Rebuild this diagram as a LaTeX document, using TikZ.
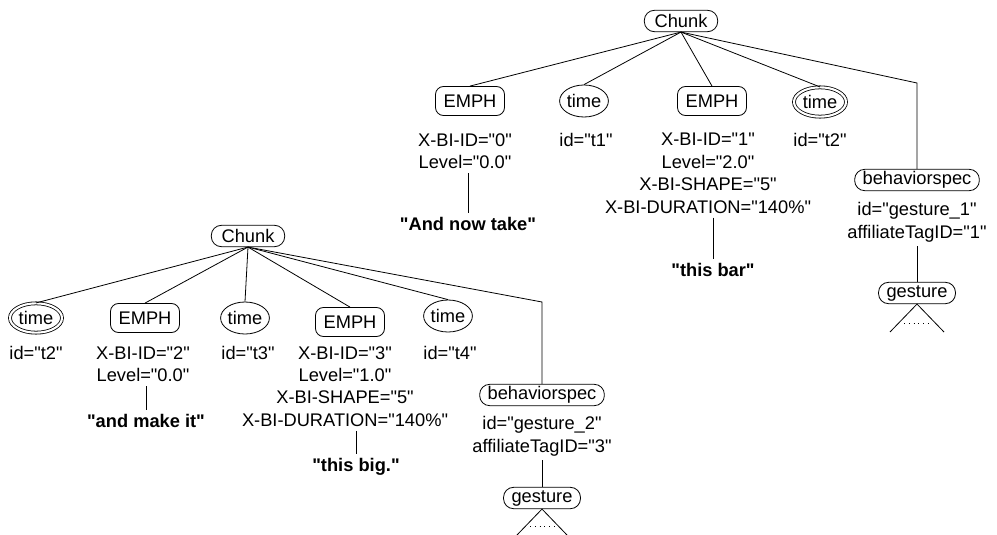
\documentclass[tikz,border=0pt]{standalone}
\usepackage{fontspec}
\setmainfont{Liberation Sans}[Ligatures=TeXOff]
\usetikzlibrary{shapes.geometric}

\begin{document}
\begin{tikzpicture}[
    x=0.75pt, y=-0.75pt,
    line width=0.6pt,
    every node/.style={font=\fontsize{13.7}{16.8}\selectfont},
    tag/.style={draw, rounded corners=7.5pt, minimum height=16pt, inner xsep=6pt, inner ysep=1pt},
    emph/.style={draw, rounded corners=6pt, minimum width=51.75pt, minimum height=21.75pt},
    timenode/.style={draw, ellipse, inner sep=0pt, minimum width=33pt, minimum height=24pt},
    dbltime/.style={timenode, double, double distance=1.6pt, minimum width=39pt, minimum height=22pt},
    attr/.style={align=center, inner sep=3pt, anchor=north},
    word/.style={attr, font=\fontsize{13.7}{16.8}\selectfont\bfseries},
    dots/.style={dash pattern=on 0.6pt off 3pt}
]
\useasboundingbox (0,0) rectangle (997,535);

% upper tree
\node[tag, minimum width=55pt] (chunkT) at (681,21) {Chunk};
\node[emph] (emphT1) at (470,101) {EMPH};
\node[timenode] (timeT1) at (584,101) {time};
\node[emph] (emphT2) at (712,101) {EMPH};
\node[dbltime] (timeT2) at (820,102) {time};
\coordinate (bendT) at (917,83);
\node[tag] (bspecT) at (917,180) {behaviorspec};
\node[tag] (gestT) at (917,293) {gesture};

\node[attr] (attrT1) at (465,129) {X-BI-ID="0"\\Level="0.0"};
\node[word] (wordT1) at (468,213) {"And now take"};
\node[attr] (idT1) at (586,129) {id="t1"};
\node[attr] (attrT2) at (708,129) {X-BI-ID="1"\\Level="2.0"\\X-BI-SHAPE="5"\\X-BI-DURATION="140\%"};
\node[word] (wordT2) at (713,259) {"this bar"};
\node[attr] (idT2) at (820,129) {id="t2"};
\node[attr] (attrT3) at (917,198) {id="gesture\_1"\\affiliateTagID="1"};
\coordinate (triT1) at (890,332);
\coordinate (triT2) at (944,332);
\coordinate (dotT1) at (904,323);
\coordinate (dotT2) at (932,323);

\draw (chunkT.south) -- (emphT1.north);
\draw (chunkT.south) -- (timeT1.north);
\draw (chunkT.south) -- (emphT2.north);
\draw (chunkT.south) -- (timeT2.north);
\draw (chunkT.south) -- (bendT) -- (bspecT.north);
\draw (wordT1.north |- attrT1.south) -- (wordT1.north);
\draw (wordT2.north |- attrT2.south) -- (wordT2.north);
\draw (attrT3.south) -- (gestT.north);
\draw (triT1) -- (gestT.south) -- (triT2);
\draw[dots] (dotT1) -- (dotT2);

% lower tree
\node[tag, minimum width=55pt] (chunkB) at (248,236) {Chunk};
\node[dbltime] (timeB0) at (36,318) {time};
\node[emph] (emphB1) at (145,318) {EMPH};
\node[timenode] (timeB1) at (245,318) {time};
\node[emph] (emphB2) at (350,322) {EMPH};
\node[timenode] (timeB2) at (448,316) {time};
\coordinate (bendB) at (542,302);
\node[tag] (bspecB) at (542,395) {behaviorspec};
\node[tag] (gestB) at (542,498) {gesture};

\node[attr] (idB0) at (36,342) {id="t2"};
\node[attr] (attrB1) at (143,342) {X-BI-ID="2"\\Level="0.0"};
\node[word] (wordB1) at (146,410) {"and make it"};
\node[attr] (idB1) at (248,342) {id="t3"};
\node[attr] (attrB2) at (345,342) {X-BI-ID="3"\\Level="1.0"\\X-BI-SHAPE="5"\\X-BI-DURATION="140\%"};
\node[word] (wordB2) at (356,454) {"this big."};
\node[attr] (idB2) at (450,342) {id="t4"};
\node[attr] (attrB3) at (542,412) {id="gesture\_2"\\affiliateTagID="3"};
\coordinate (triB1) at (517,535);
\coordinate (triB2) at (567,535);
\coordinate (dotB1) at (530,526);
\coordinate (dotB2) at (556,526);

\draw (chunkB.south) -- (timeB0.north);
\draw (chunkB.south) -- (emphB1.north);
\draw (chunkB.south) -- (timeB1.north);
\draw (chunkB.south) -- (emphB2.north);
\draw (chunkB.south) -- (timeB2.north);
\draw (chunkB.south) -- (bendB) -- (bspecB.north);
\draw (wordB1.north |- attrB1.south) -- (wordB1.north);
\draw (wordB2.north |- attrB2.south) -- (wordB2.north);
\draw (attrB3.south) -- (gestB.north);
\draw (triB1) -- (gestB.south) -- (triB2);
\draw[dots] (dotB1) -- (dotB2);
\end{tikzpicture}
\end{document}
